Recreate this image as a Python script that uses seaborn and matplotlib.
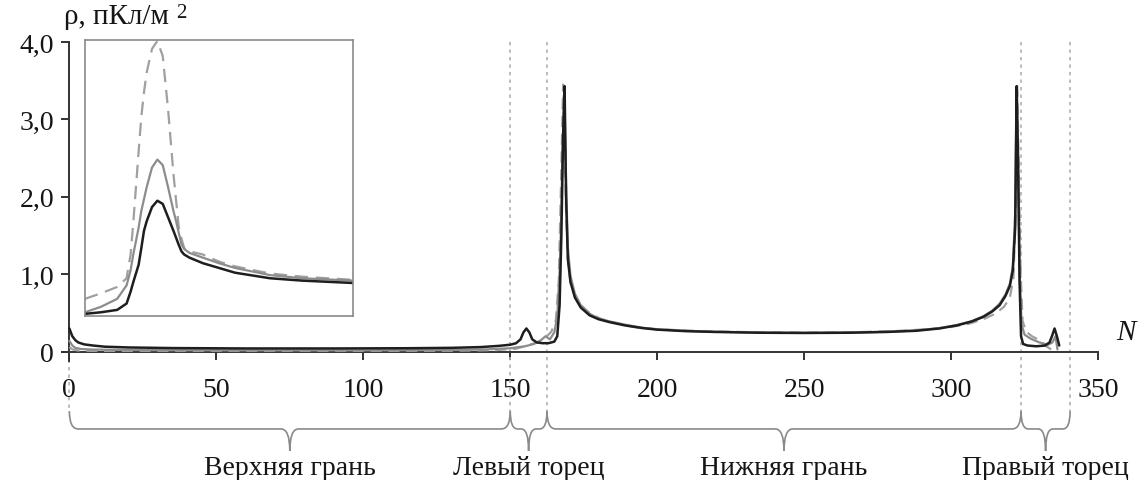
import numpy as np
import pandas as pd
import matplotlib
matplotlib.use("Agg")
import matplotlib.pyplot as plt
import seaborn as sns
from matplotlib.path import Path
from matplotlib.patches import PathPatch
from matplotlib.transforms import blended_transform_factory

# ---------------- data ----------------
# black solid curve
N_black = [0, 0.5, 1, 2, 3, 5, 8, 12, 20, 35,
           60, 90, 115, 130, 140, 146, 150, 152, 153.5, 154.5,
           155.5, 156.5, 157.5, 159, 161, 163, 165, 166, 166.8, 167.4,
           168, 168.5, 169, 169.6, 170.5, 172, 174, 177, 180, 184,
           189, 195, 200, 210, 220, 235, 250, 265, 278, 288,
           296, 302, 307, 311, 314, 316.5, 318.5, 320, 321, 321.8,
           322.3, 322.8, 323.3, 323.8, 324.5, 326, 329, 332, 333.5, 334.5,
           335.2, 336, 336.8]
rho_black = [0.30, 0.25, 0.2, 0.15, 0.12, 0.095, 0.08, 0.065, 0.055, 0.047,
             0.042, 0.042, 0.045, 0.05, 0.06, 0.075, 0.09, 0.11, 0.16, 0.25,
             0.3, 0.25, 0.16, 0.12, 0.11, 0.11, 0.13, 0.2, 0.6, 1.5,
             2.8, 3.43, 2.0, 1.2, 0.9, 0.7, 0.57, 0.47, 0.42, 0.38,
             0.34, 0.305, 0.285, 0.265, 0.255, 0.245, 0.242, 0.245, 0.255, 0.27,
             0.3, 0.34, 0.39, 0.45, 0.52, 0.6, 0.72, 0.85, 1.05, 1.6,
             3.43, 2.4, 0.9, 0.2, 0.1, 0.08, 0.07, 0.08, 0.12, 0.22,
             0.3, 0.2, 0.08]

# gray solid curve
N_gray = [0, 1, 2, 4, 8, 15, 30, 60, 100, 130,
          142, 150, 155, 158, 160.5, 162, 163.5, 165, 166, 167,
          167.8, 168.4, 169, 169.6, 170.5, 172, 174, 177, 180, 184,
          189, 195, 200, 210, 220, 235, 250, 265, 278, 288,
          296, 302, 307, 311, 314, 316.5, 318.5, 320, 321, 321.8,
          322.3, 322.8, 323.3, 324, 325, 327, 330, 333, 334.5, 335.5,
          336.2]
rho_gray = [0.14, 0.08, 0.05, 0.035, 0.028, 0.024, 0.02, 0.018, 0.018, 0.022,
            0.03, 0.045, 0.07, 0.1, 0.15, 0.2, 0.16, 0.25, 0.45, 1.2,
            2.6, 3.4, 2.2, 1.35, 0.98, 0.75, 0.6, 0.49, 0.43, 0.39,
            0.35, 0.31, 0.29, 0.27, 0.258, 0.248, 0.245, 0.248, 0.258, 0.275,
            0.305, 0.345, 0.395, 0.46, 0.53, 0.62, 0.74, 0.88, 1.1, 1.8,
            3.4, 2.6, 1.0, 0.35, 0.22, 0.17, 0.12, 0.09, 0.12, 0.2,
            0.03]

# gray dashed curve
N_dash = [0, 1, 3, 8, 20, 60, 100, 130, 145, 152,
          156, 160, 162.5, 164, 165.5, 166.5, 167.3, 168, 168.5, 169,
          169.7, 170.5, 172, 174, 177, 181, 186, 192, 200, 215,
          235, 250, 265, 280, 292, 300, 306, 311, 315, 318,
          320, 321.2, 322, 322.5, 323, 323.6, 324.3, 325.5, 327.5, 330,
          332, 334, 335.5]
rho_dash = [0.06, 0.03, 0.015, 0.01, 0.01, 0.01, 0.01, 0.012, 0.02, 0.04,
            0.08, 0.13, 0.2, 0.26, 0.4, 0.9, 2.2, 3.45, 3.0, 1.8,
            1.15, 0.9, 0.72, 0.6, 0.5, 0.42, 0.37, 0.32, 0.29, 0.265,
            0.25, 0.246, 0.25, 0.265, 0.29, 0.32, 0.36, 0.42, 0.49, 0.58,
            0.7, 0.95, 1.8, 3.45, 2.4, 1.1, 0.4, 0.26, 0.2, 0.15,
            0.08, 0.03, 0.0]

# inset curves (zoom of the peak)
ins_x = [0, 6, 12, 15.5, 17, 18, 20, 21, 22, 23, 25, 27, 29, 31, 33, 34, 35,
         36, 37, 39, 44, 50, 56, 69, 81, 100]
ins_black = [0.55, 0.57, 0.6, 0.68, 0.83, 0.95, 1.17, 1.38, 1.6, 1.72, 1.9, 1.98,
             1.94, 1.77, 1.6, 1.51, 1.42, 1.34, 1.3, 1.26, 1.19, 1.13, 1.07, 1.0,
             0.97, 0.94]
ins_gray = [0.57, 0.64, 0.74, 0.91, 1.1, 1.3, 1.64, 1.85, 2.0, 2.15, 2.4, 2.5,
            2.43, 2.15, 1.85, 1.72, 1.57, 1.43, 1.37, 1.32, 1.26, 1.19, 1.13, 1.04,
            1.0, 0.97]
ins_dash = [0.74, 0.81, 0.89, 1.0, 1.3, 1.7, 2.6, 3.04, 3.35, 3.6, 3.9, 4.0,
            3.81, 3.13, 2.32, 1.98, 1.64, 1.5, 1.38, 1.34, 1.3, 1.21, 1.15, 1.06,
            1.02, 0.98]

x_ticks = [0, 50, 100, 150, 200, 250, 300, 350]
y_ticks = [0, 1, 2, 3, 4]
y_tick_labels = ["0", "1,0", "2,0", "3,0", "4,0"]

boundaries = [0, 150, 162.5, 323.8, 340.5]
segment_names = ["Верхняя грань", "Левый торец", "Нижняя грань", "Правый торец"]

# ---------------- style ----------------
sns.set_style("white")
plt.rcParams['font.family'] = ['Liberation Serif', 'DejaVu Serif']

C_BLACK = "#1e1e1e"
C_GRAY = "#8c8c8c"
C_DASH = "#a0a0a0"
C_AXIS = "#333333"
C_TEXT = "#151515"
FS = 20

fig = plt.figure(figsize=(11.4, 4.81), dpi=100)
ax = fig.add_axes([0.0544, 0.2474, 0.9088, 0.6632])
ax.set_facecolor("none")

sns.lineplot(x=N_dash, y=rho_dash, ax=ax, color=C_DASH, lw=1.6,
             linestyle=(0, (5, 3)), errorbar=None, zorder=3)
sns.lineplot(x=N_gray, y=rho_gray, ax=ax, color=C_GRAY, lw=1.6,
             errorbar=None, zorder=4)
sns.lineplot(x=N_black, y=rho_black, ax=ax, color=C_BLACK, lw=1.8,
             errorbar=None, zorder=5)

ax.set_xlim(-2.5, 350)
ax.set_ylim(-0.12, 4.0)
for s in ["top", "right"]:
    ax.spines[s].set_visible(False)
ax.spines["left"].set_position(("data", 0))
ax.spines["bottom"].set_position(("data", 0))
for s in ["left", "bottom"]:
    ax.spines[s].set_color(C_AXIS)
    ax.spines[s].set_linewidth(1.4)

ax.set_xticks(x_ticks)
ax.set_xticklabels([str(t) for t in x_ticks])
ax.set_yticks(y_ticks)
ax.set_yticklabels(y_tick_labels)
ax.tick_params(axis="x", direction="out", length=6, width=1.4, color=C_AXIS,
               pad=12, labelsize=FS, labelcolor=C_TEXT, bottom=True)
ax.tick_params(axis="y", direction="out", length=6, width=1.4, color=C_AXIS,
               pad=5, labelsize=FS, labelcolor=C_TEXT, left=True)
ax.set_xlabel("")
ax.set_ylabel("")

trans = blended_transform_factory(ax.transData, ax.transAxes)
y_brace_top = -0.157
y_brace_mid = -0.213
y_brace_tip = -0.282

# dotted boundary lines
for i, b in enumerate(boundaries):
    top = 0.028 if i == 0 else 1.0
    ax.plot([b, b], [top, y_brace_top], transform=trans, clip_on=False,
            color="#b0b0b0", lw=1.2, linestyle=(0, (2, 2.5)), zorder=1)

# braces
def brace(x0, x1, r):
    xm = 0.5 * (x0 + x1)
    verts = [(x0, y_brace_top), (x0, y_brace_mid), (x0 + r, y_brace_mid),
             (xm - r, y_brace_mid), (xm, y_brace_mid), (xm, y_brace_tip),
             (xm, y_brace_mid), (xm + r, y_brace_mid),
             (x1 - r, y_brace_mid), (x1, y_brace_mid), (x1, y_brace_top)]
    codes = [Path.MOVETO, Path.CURVE3, Path.CURVE3,
             Path.LINETO, Path.CURVE3, Path.CURVE3,
             Path.CURVE3, Path.CURVE3,
             Path.LINETO, Path.CURVE3, Path.CURVE3]
    p = PathPatch(Path(verts, codes), transform=trans, fill=False,
                  edgecolor="#8a8a8a", lw=1.2, clip_on=False)
    ax.add_patch(p)
    return xm

for (x0, x1), name in zip(zip(boundaries[:-1], boundaries[1:]), segment_names):
    r = 3.0 if (x1 - x0) > 30 else 2.5
    xm = brace(x0, x1, r)
    ax.text(xm, -0.335, name, transform=trans, ha="center", va="center",
            fontsize=FS, color=C_TEXT)

# axis labels
ylab = fig.text(64 / 1140, 1 - 17 / 481, "ρ, пКл/м", fontsize=21, ha="left",
                va="center", color=C_TEXT)
fig.canvas.draw()
bb = ylab.get_window_extent()
fig.text((bb.x1 + 7) / 1140, 1 - 13 / 481, "2", fontsize=15, ha="left",
         va="center", color=C_TEXT)
fig.text(1126 / 1140, 1 - 333 / 481, "N", fontsize=21, style="italic",
         ha="center", va="center", color=C_TEXT)

# inset
ax_in = fig.add_axes([0.0746, 0.341, 0.235, 0.574])
ax_in.set_facecolor("white")
sns.lineplot(x=ins_x, y=ins_dash, ax=ax_in, color=C_DASH, lw=1.6,
             linestyle=(0, (6, 3.5)), errorbar=None)
sns.lineplot(x=ins_x, y=ins_gray, ax=ax_in, color=C_GRAY, lw=1.6, errorbar=None)
sns.lineplot(x=ins_x, y=ins_black, ax=ax_in, color=C_BLACK, lw=1.8, errorbar=None)
ax_in.set_xlim(0, 100)
ax_in.set_ylim(0.523, 4.013)
ax_in.set_xticks([])
ax_in.set_yticks([])
ax_in.set_xlabel("")
ax_in.set_ylabel("")
for s in ax_in.spines.values():
    s.set_visible(True)
    s.set_color("#8a8a8a")
    s.set_linewidth(1.2)

fig.savefig("out.png", dpi=100)
